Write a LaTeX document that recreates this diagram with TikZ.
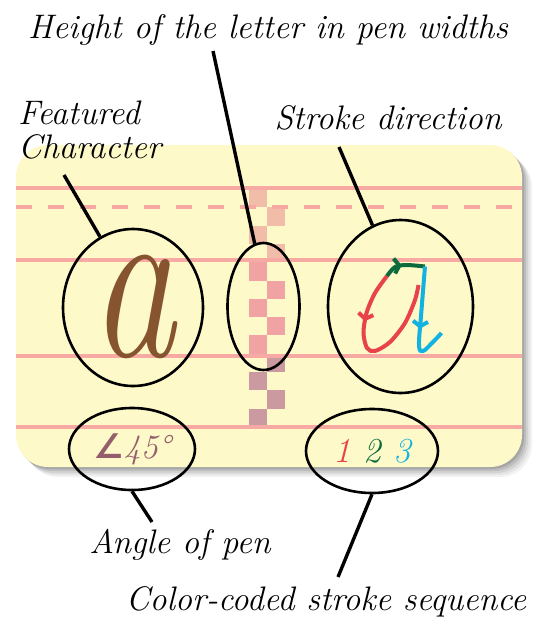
\documentclass[tikz,border=0pt]{standalone}
\usepackage{fontspec}
\newfontfamily\symfont{DejaVu Sans}
\usetikzlibrary{shapes.geometric,arrows.meta,decorations.markings}
\definecolor{paper}{HTML}{FEF9C9}
\definecolor{rule}{HTML}{F7A9A3}
\definecolor{ink}{HTML}{86542F}
\definecolor{peach}{HTML}{F1BDA9}
\definecolor{rosy}{HTML}{F1A3A3}
\definecolor{mauve}{HTML}{CA9AA0}
\definecolor{pen}{HTML}{945E6C}
\definecolor{sred}{HTML}{E8424A}
\definecolor{sgreen}{HTML}{0B6B3C}
\definecolor{sblue}{HTML}{13B2E0}
\begin{document}
\begin{tikzpicture}[x=1pt,y=-1pt,
  oval/.style={ellipse,draw,line width=2.6pt,inner sep=0pt},
  lbl/.style={font=\fontsize{34}{34}\selectfont\itshape,inner sep=0pt},
  lead/.style={line width=3.4pt},
  guide/.style={rule,line width=3.2pt},
  strk/.style={line width=4pt},
  barb/.style={postaction={decorate},decoration={markings,
    mark=at position #1 with {\arrow{Straight Barb[length=5pt,width=15pt]}}}}]
\useasboundingbox (0,0) rectangle (547,633);
% card with its shadow
\foreach \d/\o in {10/0.05,8/0.06,6/0.08,4/0.1,2/0.12}
  \fill[black,opacity=\o,rounded corners=32pt] (16+\d,145+\d) rectangle (522+\d,467+\d);
\fill[paper,rounded corners=32pt] (16,145) rectangle (522,467);
% pen width column
\foreach \i in {0,...,12}{
  \pgfmathsetmacro\sy{189+18.3*\i}
  \pgfmathsetmacro\sx{249+18*mod(\i,2)}
  \ifnum\i<4 \def\sc{peach}\else\ifnum\i<9 \def\sc{rosy}\else\def\sc{mauve}\fi\fi
  \fill[\sc] (\sx,\sy) rectangle ++(18,18.3);
}
% guide lines
\foreach \y in {188,260,356,427} \draw[guide] (16,\y) -- (522,\y);
\draw[guide,dash pattern=on 16pt off 16pt] (16,207) -- (512,207);
% featured character
\node[text=ink,xscale=0.74,inner sep=0pt,font=\fontsize{230}{230}\selectfont\itshape] (charA) at (133,307) {a};
% stroke order letter
\draw[strk,sred,barb=0.3] plot[smooth] coordinates {(387,276) (375,293) (366.5,313) (363.5,333) (367,348) (375,351) (390,342) (405,323) (415,300) (418.5,285)};
\draw[strk,sgreen,barb=0.45] plot[smooth] coordinates {(387,276) (395,267) (406.5,265) (425,266.5)};
\draw[strk,sblue,barb=0.55] plot[smooth,tension=0.6] coordinates {(425,266.5) (421.5,310) (419,345) (423,351) (432,343) (441.5,333)};
% ovals
\node[oval,minimum width=140pt,minimum height=157pt] (charOval) at (133,307.5) {};
\node[oval,minimum width=72pt,minimum height=127pt] (heightOval) at (263.5,306.5) {};
\node[oval,minimum width=145pt,minimum height=173pt] (strokeOval) at (400.5,306.5) {};
\node[oval,minimum width=126pt,minimum height=82pt,text=pen,font=\fontsize{34}{34}\selectfont\itshape] (angleOval) at (132,449) {{\symfont\bfseries ∠}45°};
\node[oval,minimum width=132pt,minimum height=84pt,font=\fontsize{35}{35}\selectfont\itshape] (seqOval) at (372,451) {\textcolor{sred}{1} \textcolor{sgreen}{2} \textcolor{sblue}{3}};
% labels
\node[lbl] (heightLbl) at (268,30) {Height of the letter in pen widths};
\node[lbl,align=left,anchor=west] (featLbl) at (18,130) {Featured\\Character};
\node[lbl] (strokeLbl) at (388,118) {Stroke direction};
\node[lbl] (angleLbl) at (180,545) {Angle of pen};
\node[lbl] (seqLbl) at (326,602) {Color-coded stroke sequence};
% leaders
\coordinate (featEnd) at (64,175);
\coordinate (heightEnd) at (213,51);
\coordinate (strokeEnd) at (339,147);
\coordinate (angleEnd) at (152,522);
\coordinate (seqEnd) at (338,577);
\draw[lead] (featEnd) -- (charOval.115);
\draw[lead] (heightEnd) -- (heightOval.98);
\draw[lead] (strokeEnd) -- (strokeOval.109);
\draw[lead] (angleEnd) -- (angleOval.south);
\draw[lead] (seqEnd) -- (seqOval.south);
\end{tikzpicture}
\end{document}
